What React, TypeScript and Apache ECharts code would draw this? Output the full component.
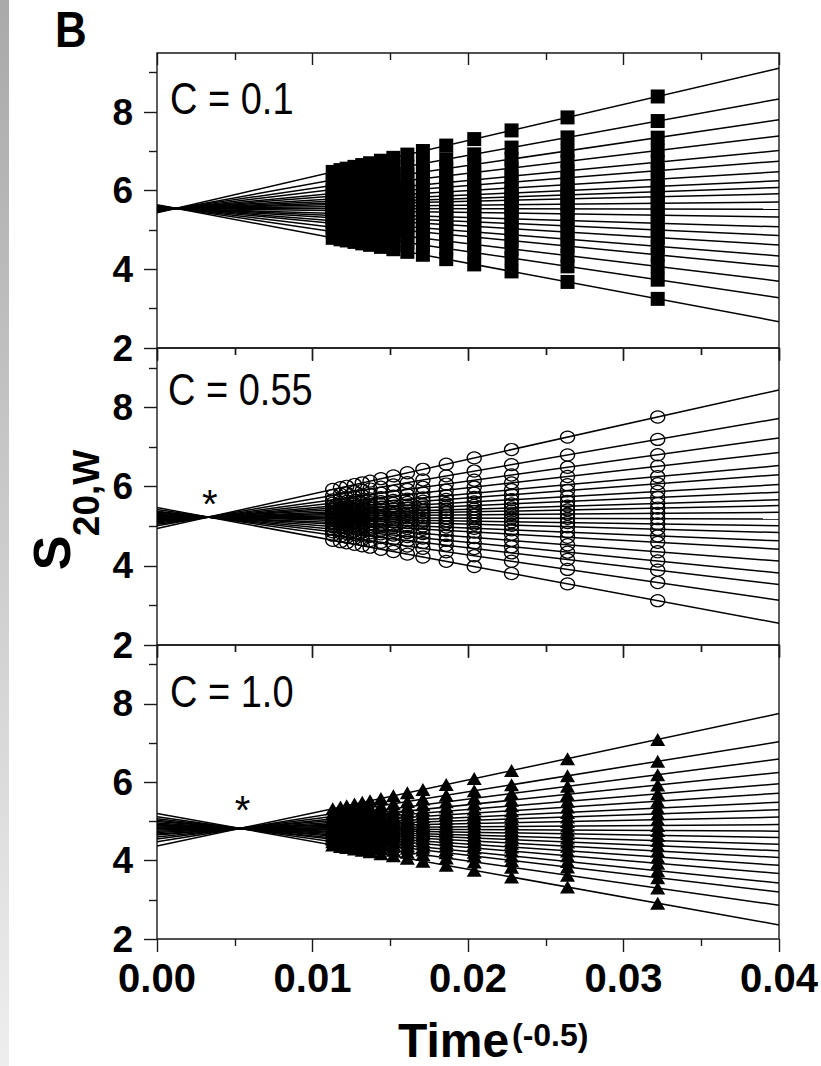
import React, { useEffect, useRef } from "react";
import * as echarts from "echarts";

// ---------------- data ----------------
// Time^(-0.5) of each scan (shared by all three panels)
const scanX = [0.0113, 0.0118, 0.0122, 0.0127, 0.0132, 0.0137, 0.0144, 0.0152, 0.0161, 0.0171, 0.0186, 0.0204, 0.0228, 0.0264, 0.0322];

// extrapolation lines run from x = 0 to x = 0.04
const lineX = [0, 0.04];

// C = 0.1 : S20,W of each boundary fraction at x = 0 and x = 0.04
const startC01 = [5.44, 5.46, 5.48, 5.49, 5.5, 5.51, 5.52, 5.53, 5.53, 5.54, 5.55, 5.55, 5.56, 5.56, 5.57, 5.58, 5.59, 5.6, 5.61, 5.62, 5.64];
const endC01 = [9.11, 8.33, 7.8, 7.39, 7.02, 6.75, 6.48, 6.25, 6.08, 5.92, 5.71, 5.53, 5.33, 5.08, 4.86, 4.62, 4.34, 4.07, 3.7, 3.28, 2.67];

// C = 0.55
const startC055 = [4.94, 5.01, 5.05, 5.08, 5.11, 5.13, 5.16, 5.17, 5.19, 5.2, 5.22, 5.23, 5.25, 5.27, 5.28, 5.3, 5.33, 5.36, 5.38, 5.42, 5.47];
const endC055 = [8.44, 7.72, 7.23, 6.86, 6.53, 6.3, 6.05, 5.86, 5.67, 5.52, 5.35, 5.18, 5.01, 4.84, 4.63, 4.42, 4.12, 3.82, 3.53, 3.13, 2.55];

// C = 1.0
const startC10 = [4.37, 4.48, 4.55, 4.6, 4.65, 4.68, 4.72, 4.75, 4.78, 4.81, 4.83, 4.86, 4.88, 4.91, 4.93, 4.96, 5.0, 5.03, 5.07, 5.12, 5.2];
const endC10 = [7.75, 7.03, 6.59, 6.25, 5.96, 5.72, 5.49, 5.3, 5.11, 4.92, 4.75, 4.59, 4.42, 4.25, 4.08, 3.88, 3.67, 3.43, 3.2, 2.86, 2.36];

const panelLabels = ["C = 0.1", "C = 0.55", "C = 1.0"];
const yMajorTicks = [2, 4, 6, 8];
const yMinorTicks = [3, 5, 7, 9];
const yRange = [2, 9.5];
const xRange = [0, 0.04];
const xInterval = 0.01;
// crossing-point markers (x in data units, S value) for panels 2 and 3
const starPoints = [null, [0.0034, 5.55], [0.0055, 5.3]];

// ---------------- layout & style ----------------
const FONT = "'Liberation Sans', Arial, Helvetica, sans-serif";
const AX = "#1a1a1a";
const GRID_LEFT = 157;
const GRID_WIDTH = 622;
const GRID_TOPS = [53, 348, 645];
const GRID_HEIGHTS = [295, 297, 294];

const panelStyles = [
  { symbol: "rect", size: 14, item: { color: "#000", opacity: 1 } },
  { symbol: "circle", size: [14, 12], item: { color: "rgba(0,0,0,0)", borderColor: "#000", borderWidth: 1.3, opacity: 1 } },
  { symbol: "triangle", size: [15, 13], item: { color: "#000", opacity: 1 } },
];

const panels = [
  { start: startC01, end: endC01 },
  { start: startC055, end: endC055 },
  { start: startC10, end: endC10 },
];

function buildOption() {
  const grid = panels.map((_, i) => ({
    left: GRID_LEFT,
    width: GRID_WIDTH,
    top: GRID_TOPS[i],
    height: GRID_HEIGHTS[i],
    show: true,
    borderColor: AX,
    borderWidth: 1.4,
    backgroundColor: "transparent",
    containLabel: false,
    outerBoundsMode: "none",
  }));

  const tickLine = { color: AX, width: 1.4 };

  const xAxis: any[] = [];
  const yAxis: any[] = [];
  panels.forEach((_, i) => {
    xAxis.push({
      gridIndex: i,
      type: "value",
      position: "bottom",
      min: xRange[0],
      max: xRange[1],
      interval: xInterval,
      axisLine: { show: false },
      splitLine: { show: false },
      axisTick: { show: true, inside: false, length: 13, lineStyle: tickLine },
      minorTick: { show: true, splitNumber: 2, length: 7, lineStyle: tickLine },
      axisLabel: {
        show: i === 2,
        margin: 19,
        fontSize: 40,
        fontWeight: "bold",
        fontFamily: FONT,
        color: "#000",
        formatter: (v: number) => v.toFixed(2),
      },
    });
    xAxis.push({
      gridIndex: i,
      type: "value",
      position: "top",
      min: xRange[0],
      max: xRange[1],
      interval: xInterval,
      axisLine: { show: false },
      splitLine: { show: false },
      axisTick: { show: true, inside: true, length: 12, lineStyle: tickLine },
      minorTick: { show: true, splitNumber: 2, length: 7, lineStyle: tickLine },
      axisLabel: { show: false },
    });
    yAxis.push({
      gridIndex: i,
      type: "value",
      position: "left",
      min: yRange[0],
      max: yRange[1],
      interval: 2,
      axisLine: { show: false },
      splitLine: { show: false },
      axisTick: { show: true, inside: false, length: 13, lineStyle: tickLine, customValues: yMajorTicks },
      axisLabel: {
        show: true,
        margin: 24,
        fontSize: 37,
        fontWeight: "bold",
        fontFamily: FONT,
        color: "#000",
        customValues: yMajorTicks,
      },
    });
    yAxis.push({
      gridIndex: i,
      type: "value",
      position: "left",
      min: yRange[0],
      max: yRange[1],
      interval: 2,
      axisLine: { show: false },
      splitLine: { show: false },
      axisTick: { show: true, inside: false, length: 8, lineStyle: tickLine, customValues: yMinorTicks },
      axisLabel: { show: false },
    });
  });

  const series: any[] = [];
  panels.forEach((p, pi) => {
    p.start.forEach((s, li) => {
      series.push({
        type: "line",
        xAxisIndex: pi * 2,
        yAxisIndex: pi * 2,
        data: [
          [lineX[0], s],
          [lineX[1], p.end[li]],
        ],
        symbol: "none",
        lineStyle: { color: "#000", width: 1.5 },
        silent: true,
        z: 2,
      });
    });
    const pts: number[][] = [];
    p.start.forEach((s, li) => {
      const e = p.end[li];
      scanX.forEach((x) => {
        pts.push([x, s + ((e - s) * (x - lineX[0])) / (lineX[1] - lineX[0])]);
      });
    });
    const st = panelStyles[pi];
    series.push({
      type: "scatter",
      xAxisIndex: pi * 2,
      yAxisIndex: pi * 2,
      data: pts,
      symbol: st.symbol,
      symbolSize: st.size,
      itemStyle: st.item,
      silent: true,
      z: 3,
    });
  });

  const txt = (text: string, x: number, y: number, size: number, weight: string, extra: any = {}) => ({
    type: "text",
    x,
    y,
    silent: true,
    z: 10,
    ...extra.el,
    style: {
      text,
      fill: "#000",
      fontSize: size,
      fontWeight: weight,
      fontFamily: FONT,
      textAlign: extra.align || "left",
      align: extra.align || "left",
      textVerticalAlign: "middle",
      verticalAlign: "middle",
    },
  });

  const graphic: any[] = [
    {
      type: "rect",
      shape: { x: 0, y: 0, width: 9, height: 1066 },
      silent: true,
      style: {
        fill: {
          type: "linear",
          x: 0,
          y: 0,
          x2: 0,
          y2: 1,
          colorStops: [
            { offset: 0, color: "#a9a9a9" },
            { offset: 1, color: "#eeeeee" },
          ],
        },
      },
    },
    txt("B", 55, 29, 44, "bold", { el: { scaleY: 1.15 } }),
    txt(panelLabels[0], 170, 99, 38, "normal", { el: { scaleY: 1.15 } }),
    txt(panelLabels[1], 168, 390, 38, "normal", { el: { scaleY: 1.15 } }),
    txt(panelLabels[2], 170, 692, 38, "normal", { el: { scaleY: 1.15 } }),
    txt("S", 52, 553, 52, "bold", { align: "center", el: { rotation: Math.PI / 2 } }),
    txt("20,W", 86, 493, 37, "bold", { align: "center", el: { rotation: Math.PI / 2 } }),
    txt("Time", 398, 1040, 48, "bold"),
    txt("(-0.5)", 512, 1035, 32, "bold"),
  ];

  const option: any = {
    animation: false,
    backgroundColor: "#ffffff",
    grid,
    xAxis,
    yAxis,
    series,
    graphic,
  };
  return option;
}

export default function App() {
  const ref = useRef<HTMLDivElement>(null);
  useEffect(() => {
    if (!ref.current) return;
    const chart = echarts.init(ref.current, undefined, { renderer: "svg" });
    const option = buildOption();
    chart.setOption(option);
    // asterisks at the crossing points, placed through the axis scale
    const extra: any[] = [];
    starPoints.forEach((pt, i) => {
      if (!pt) return;
      const px = chart.convertToPixel({ xAxisIndex: i * 2, yAxisIndex: i * 2 }, pt as number[]);
      if (px) {
        extra.push({
          type: "text",
          x: px[0],
          y: px[1],
          silent: true,
          z: 10,
          style: {
            text: "*",
            fill: "#000",
            fontSize: 40,
            fontFamily: FONT,
            textAlign: "center",
            align: "center",
            textVerticalAlign: "middle",
            verticalAlign: "middle",
          },
        });
      }
    });
    chart.setOption({ graphic: [...option.graphic, ...extra] }, { replaceMerge: ["graphic"] });
    return () => chart.dispose();
  }, []);
  return (
    <div
      ref={ref}
      style={{ position: "absolute", left: 0, top: 0, width: 821, height: 1066, background: "#fff" }}
    />
  );
}
